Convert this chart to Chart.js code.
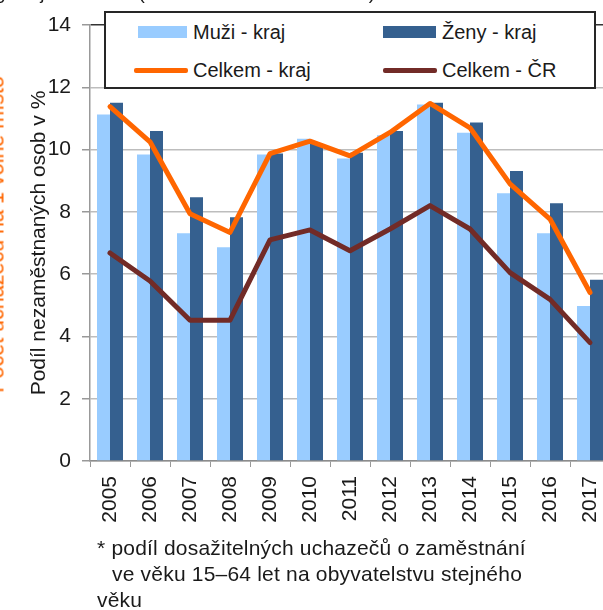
<!DOCTYPE html>
<html><head><meta charset="utf-8">
<script src="https://cdn.jsdelivr.net/npm/chart.js@4.4.0/dist/chart.umd.min.js"></script>
<style>
html,body{margin:0;padding:0;width:603px;height:610px;overflow:hidden;background:#fff;font-family:"Liberation Sans",Arial,sans-serif;color:#1a1a1a;}
#wrap{position:absolute;left:0;top:0;width:612px;height:610px;}
#topTitle{position:absolute;left:-59px;top:-17px;font-size:19px;line-height:19px;white-space:nowrap;color:#1a1a1a;}
#y2title{position:absolute;left:-173px;top:225px;width:340px;height:19px;line-height:19px;font-size:21.5px;text-align:center;color:#FF6600;white-space:nowrap;transform:rotate(-90deg);transform-origin:50% 50%;}
#legend{position:absolute;left:104px;top:11px;width:488px;height:74px;border:2px solid #262626;background:#fff;}
.li{position:absolute;font-size:20px;line-height:20px;white-space:nowrap;}
.sw{position:absolute;}
#note{position:absolute;left:97px;top:535px;font-size:21px;line-height:26px;letter-spacing:0.2px;white-space:nowrap;color:#1a1a1a;}
</style></head><body>
<div id="wrap"><canvas id="c" width="612" height="610"></canvas></div>
<div id="topTitle">Ústecký kraj a celá ČR (stav k 31. 12. daného roku)</div>
<div id="y2title">Počet uchazečů na 1 volné místo</div>
<div id="legend"></div>
<div id="note"><div>* podíl dosažitelných uchazečů o zaměstnání</div><div style="margin-left:15px">ve věku 15–64 let na obyvatelstvu stejného</div><div>věku</div></div>
<script>
const years = ['2005','2006','2007','2008','2009','2010','2011','2012','2013','2014','2015','2016','2017'];
const muziKraj = [11.13, 9.84, 7.31, 6.86, 9.84, 10.35, 9.71, 10.46, 11.45, 10.54, 8.6, 7.31, 4.98];
const zenyKraj = [11.5, 10.6, 8.47, 7.83, 9.87, 10.19, 9.9, 10.6, 11.5, 10.87, 9.31, 8.28, 5.82];
const celkemKraj = [11.38, 10.25, 7.94, 7.34, 9.87, 10.27, 9.8, 10.55, 11.48, 10.7, 8.9, 7.77, 5.41];
const celkemCR = [6.68, 5.78, 4.52, 4.52, 7.1, 7.42, 6.75, 7.45, 8.2, 7.45, 6.05, 5.19, 3.8];
const yTicks = [0, 2, 4, 6, 8, 10, 12, 14];

const FONT = '"Liberation Sans", Arial, sans-serif';
const datasets = [
  {label:'Muži - kraj', data:muziKraj, backgroundColor:'#99CCFF', order:2},
  {label:'Ženy - kraj', data:zenyKraj, backgroundColor:'#35608F', order:2},
  {type:'line', label:'Celkem - kraj', data:celkemKraj, borderColor:'#FF6600', backgroundColor:'#FF6600', borderWidth:5, pointRadius:0, tension:0, borderJoinStyle:'round', borderCapStyle:'round', order:1},
  {type:'line', label:'Celkem - ČR', data:celkemCR, borderColor:'#722B27', backgroundColor:'#722B27', borderWidth:5, pointRadius:0, tension:0, borderJoinStyle:'round', borderCapStyle:'round', order:1}
];

const chart = new Chart(document.getElementById('c'), {
  type:'bar',
  data:{labels:years, datasets:datasets},
  options:{
    responsive:false, animation:false, devicePixelRatio:1,
    categoryPercentage:0.65, barPercentage:1,
    layout:{padding:{top:25, left:0, right:2, bottom:0}},
    plugins:{legend:{display:false}, tooltip:{enabled:false}},
    scales:{
      x:{
        grid:{display:true, drawOnChartArea:false, drawTicks:true, tickLength:6, color:'#999', offset:true},
        border:{display:true, color:'#8c8c8c', width:1.5},
        ticks:{minRotation:90, maxRotation:90, autoSkip:false, padding:9, color:'#1a1a1a', font:{size:21, family:FONT}},
        afterFit:s=>{s.height=149; s.paddingLeft=0; s.paddingRight=0;}
      },
      y:{
        min:0, max:14,
        afterBuildTicks:s=>{s.ticks = yTicks.map(v=>({value:v}));},
        ticks:{padding:11, color:'#1a1a1a', font:{size:21, family:FONT}},
        grid:{color:c=>c.tick && c.tick.value===14 ? '#333' : '#bdbdbd', tickColor:'#999', lineWidth:1.5, tickLength:8, drawTicks:true},
        border:{display:true, color:'#999', width:1.5},
        title:{display:true, text:'Podíl nezaměstnaných osob v %', color:'#1a1a1a', font:{size:21, family:FONT}, padding:{top:27, bottom:0}},
        afterFit:s=>{s.width=90; s.paddingTop=0; s.paddingBottom=0;}
      }
    }
  }
});

// HTML legend built from the datasets
const lg = document.getElementById('legend');
const pos = [
  {sx:32, tx:87, cy:19},
  {sx:277, tx:336, cy:19},
  {sx:28, tx:87, cy:57},
  {sx:277, tx:336, cy:57}
];
datasets.forEach((d,i)=>{
  const p = pos[i];
  const sw = document.createElement('div');
  sw.className='sw';
  if(d.type==='line'){
    sw.style.cssText = `left:${p.sx}px;top:${p.cy-2.5}px;width:${p.tx-p.sx-5}px;height:5px;background:${d.borderColor};border-radius:2px;`;
  } else {
    sw.style.cssText = `left:${p.sx}px;top:${p.cy-6}px;width:${p.tx-p.sx-6}px;height:12px;background:${d.backgroundColor};`;
  }
  lg.appendChild(sw);
  const t = document.createElement('div');
  t.className='li';
  t.style.left = p.tx+'px';
  t.style.top = (p.cy-10)+'px';
  t.textContent = d.label;
  lg.appendChild(t);
});
</script>
</body></html>
